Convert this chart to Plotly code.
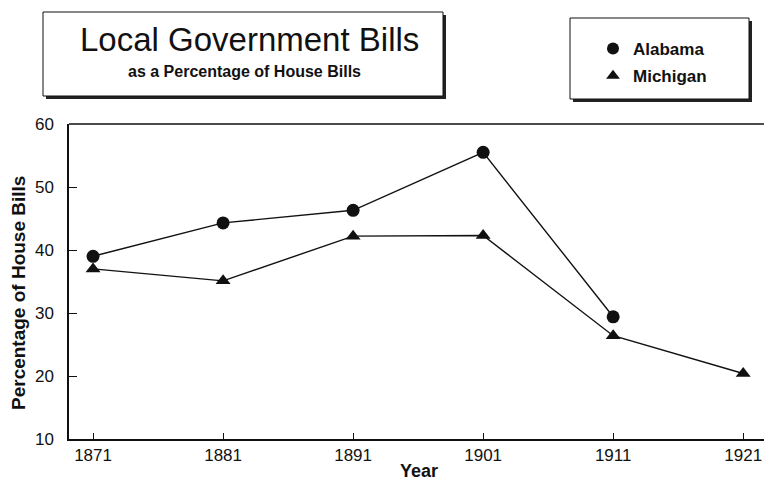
import plotly.graph_objects as go

# Census years and the share of house bills that dealt with local government
years_al = [1871, 1881, 1891, 1901, 1911]
alabama = [39.0, 44.3, 46.3, 55.5, 29.4]
years_mi = [1871, 1881, 1891, 1901, 1911, 1921]
michigan = [37.0, 35.1, 42.2, 42.3, 26.4, 20.4]
x_ticks = [1871, 1881, 1891, 1901, 1911, 1921]
y_ticks = [10, 20, 30, 40, 50, 60]

W, H = 764, 481
ML, MR, MT, MB = 69, 0, 124, 42
PW, PH = W - ML - MR, H - MT - MB


def px(x):
    return (x - ML) / PW


def py(y):
    return (H - MB - y) / PH


FONT = "Liberation Sans, Arial, sans-serif"
BLACK = "#111111"

fig = go.Figure()

fig.add_trace(go.Scatter(
    x=years_al, y=alabama, mode="lines+markers", showlegend=False,
    line=dict(color=BLACK, width=1.4),
    marker=dict(symbol="circle", size=13, color=BLACK),
))
fig.add_trace(go.Scatter(
    x=years_mi, y=michigan, mode="lines+markers", showlegend=False,
    line=dict(color=BLACK, width=1.4),
    marker=dict(symbol="triangle-up", size=13, color=BLACK),
))

# legend entries show the symbol only
fig.add_trace(go.Scatter(
    x=[None], y=[None], mode="markers", name="Alabama", legendgroup="a",
    marker=dict(symbol="circle", size=12, color=BLACK),
))
fig.add_trace(go.Scatter(
    x=[None], y=[None], mode="markers", name="Michigan", legendgroup="m",
    marker=dict(symbol="triangle-up", size=12, color=BLACK),
))

shapes = []
# top frame line of the plot
shapes.append(dict(type="line", xref="paper", yref="paper", x0=0, x1=1, y0=1, y1=1,
                   line=dict(color=BLACK, width=1.3)))


def boxed(x0, y0, x1, y1):
    # shadow on the right and bottom, then the framed white box
    shapes.append(dict(type="rect", xref="paper", yref="paper",
                       x0=px(x0 + 3), x1=px(x1 + 3), y0=py(y1 + 3), y1=py(y0 + 3),
                       line=dict(width=0), fillcolor="#222222", layer="below"))
    shapes.append(dict(type="rect", xref="paper", yref="paper",
                       x0=px(x0), x1=px(x1), y0=py(y1), y1=py(y0),
                       line=dict(color=BLACK, width=1), fillcolor="white", layer="below"))


boxed(43, 12, 443, 96)
boxed(570, 18, 749, 99)
fig.update_layout(shapes=shapes)

annotations = [
    dict(text="Local Government Bills", x=px(249), y=py(39), xref="paper", yref="paper",
         showarrow=False, xanchor="center", yanchor="middle",
         font=dict(family=FONT, size=33, color=BLACK)),
    dict(text="<b>as a Percentage of House Bills</b>", x=px(244), y=py(72),
         xref="paper", yref="paper", showarrow=False, xanchor="center", yanchor="middle",
         font=dict(family=FONT, size=16, color=BLACK)),
    dict(text="<b>Percentage of House Bills</b>", x=px(18), y=py(293),
         xref="paper", yref="paper", showarrow=False, textangle=-90,
         xanchor="center", yanchor="middle",
         font=dict(family=FONT, size=19, color=BLACK)),
    dict(text="<b>Year</b>", x=px(419), y=py(471), xref="paper", yref="paper",
         showarrow=False, xanchor="center", yanchor="middle",
         font=dict(family=FONT, size=18, color=BLACK)),
]
fig.update_layout(annotations=annotations)

fig.update_layout(
    width=W, height=H,
    margin=dict(l=ML, r=MR, t=MT, b=MB),
    paper_bgcolor="white", plot_bgcolor="white",
    font=dict(family=FONT, color=BLACK),
    legend=dict(x=px(593), y=py(31), xanchor="left", yanchor="top",
                bgcolor="rgba(0,0,0,0)", borderwidth=0,
                traceorder="grouped", tracegroupgap=2, itemwidth=30,
                font=dict(family=FONT, size=17, color=BLACK, weight="bold")),
    xaxis=dict(range=[1869.15, 1922.6], tickvals=x_ticks, showgrid=False, zeroline=False,
               showline=True, linecolor=BLACK, linewidth=1.5,
               ticks="inside", ticklen=6, tickcolor=BLACK,
               tickfont=dict(family=FONT, size=17, color=BLACK)),
    yaxis=dict(range=[10, 60], tickvals=y_ticks, showgrid=False, zeroline=False,
               showline=True, linecolor=BLACK, linewidth=1.5,
               ticks="inside", ticklen=8, tickcolor=BLACK, ticklabelstandoff=10,
               tickfont=dict(family=FONT, size=17, color=BLACK)),
)

fig.write_html("out.html")
